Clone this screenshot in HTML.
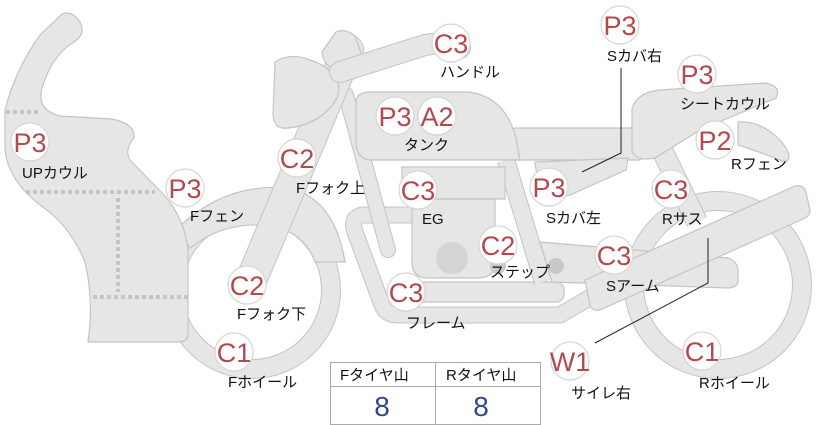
<!DOCTYPE html>
<html><head><meta charset="utf-8"><style>
body{margin:0;background:#fff;}
svg{display:block;}
.s{fill:#e6e6e4;stroke:#c4c4c4;stroke-width:1.2;}
.l{font-family:"Liberation Sans","Noto Sans CJK JP",sans-serif;font-size:15px;fill:#111;}
.b{font-family:"Liberation Sans","Noto Sans CJK JP",sans-serif;font-size:27px;fill:#b5484d;text-anchor:middle;}
</style></head><body>
<svg width="822" height="425" viewBox="0 0 822 425" xmlns="http://www.w3.org/2000/svg">
<!-- rear wheel -->
<circle cx="718" cy="285" r="84" fill="none" stroke="#c4c4c4" stroke-width="20"/>
<circle cx="718" cy="285" r="84" fill="none" stroke="#e6e6e4" stroke-width="18"/>
<!-- front wheel -->
<circle cx="252" cy="290" r="79" fill="none" stroke="#c4c4c4" stroke-width="20"/>
<circle cx="252" cy="290" r="79" fill="none" stroke="#e6e6e4" stroke-width="18"/>
<!-- front fender -->
<path class="s" d="M178,228 Q225,182 290,188 Q335,200 345,262 L315,262 Q305,233 272,226 Q225,220 190,248 Z"/>
<!-- UP cowl -->
<path class="s" d="M62,14 Q72,10 80,22 Q86,34 74,42 Q52,55 42,88 Q36,110 60,116 L112,119 Q136,124 134,138 Q124,150 130,160 L165,196 Q185,220 188,250 L188,336 Q186,342 178,342 L88,342 Q94,300 85,262 Q70,225 40,205 Q8,180 5,150 L5,110 Q15,70 40,35 Z"/>
<g stroke="#c4c4c4" stroke-width="4" stroke-dasharray="4,3" fill="none">
<path d="M6,112 H40"/><path d="M26,192 H155"/><path d="M118,198 V292"/><path d="M93,297 H189"/>
</g>
<!-- frame loop -->
<path d="M414,215 H362 Q350,218 355,232 L382,305 Q386,315 398,315 H560 L620,280" fill="none" stroke="#c4c4c4" stroke-width="17" stroke-linejoin="round"/>
<path d="M414,215 H362 Q350,218 355,232 L382,305 Q386,315 398,315 H560 L620,280" fill="none" stroke="#e6e6e4" stroke-width="15" stroke-linejoin="round"/>
<rect class="s" x="392" y="282" width="172" height="20" rx="8"/>
<!-- down tubes -->
<path d="M346,95 L388,250" stroke="#c4c4c4" stroke-width="16" stroke-linecap="round"/>
<path d="M346,95 L388,250" stroke="#e6e6e4" stroke-width="14" stroke-linecap="round"/>
<path d="M506,160 L543,282" stroke="#c4c4c4" stroke-width="18"/>
<path d="M506,160 L543,282" stroke="#e6e6e4" stroke-width="16"/>
<!-- engine -->
<rect class="s" x="402" y="167" width="103" height="32"/>
<path class="s" d="M412,199 H495 V262 Q495,278 478,278 H428 Q412,278 412,262 Z"/>
<circle cx="452" cy="258" r="16" fill="#d4d4d2"/>
<!-- swingarm -->
<path class="s" d="M540,242 L728,258 Q738,262 738,270 L738,282 Q736,288 728,288 L552,282 Z"/>
<circle cx="498" cy="266" r="8" fill="#c9c9c7"/><circle cx="556" cy="266" r="8" fill="#c9c9c7"/>
<!-- rear shock -->
<path d="M662,150 L697,222" stroke="#c4c4c4" stroke-width="22"/>
<path d="M662,150 L697,222" stroke="#e6e6e4" stroke-width="20"/>
<!-- exhaust -->
<path class="s" d="M585,280 L795,186 Q803,184 806,192 L810,210 Q810,216 803,219 L600,310 Q592,312 590,305 Z"/>
<!-- fork -->
<path d="M250,283 L348,50" stroke="#c4c4c4" stroke-width="32" stroke-linecap="round"/>
<path d="M250,283 L348,50" stroke="#e6e6e4" stroke-width="30" stroke-linecap="round"/>
<!-- headlight -->
<path class="s" d="M275,62 Q290,52 310,60 Q330,66 338,82 Q342,98 326,112 Q310,126 288,128 Q274,130 273,115 Z"/>
<path class="s" d="M322,52 L336,32 Q345,28 355,36 L362,56 Q352,72 340,72 Q324,68 322,52 Z"/>
<!-- handle -->
<path d="M340,72 L425,45 Q455,40 460,48" fill="none" stroke="#c4c4c4" stroke-width="22" stroke-linecap="round"/>
<path d="M340,72 L425,45 Q455,40 460,48" fill="none" stroke="#e6e6e4" stroke-width="20" stroke-linecap="round"/>
<!-- seat bar -->
<rect class="s" x="512" y="128" width="130" height="32" rx="3"/>
<!-- S cover left -->
<path class="s" d="M535,162 L628,158 L626,170 L570,195 L540,200 Z"/>
<!-- tank -->
<path class="s" d="M356,100 Q358,92 370,92 H468 Q505,96 516,138 L520,160 H372 Q358,160 356,145 Z"/>
<!-- seat cowl -->
<path class="s" d="M632,108 Q638,92 660,90 L765,83 Q782,86 776,98 L700,130 L655,158 Q635,162 632,150 Z"/>
<!-- R fender -->
<path class="s" d="M738,122 Q760,120 780,140 Q795,158 785,162 Q760,152 738,145 Z"/>
<!-- connector lines -->
<path d="M621,68 V153 L582,172" fill="none" stroke="#222" stroke-width="1"/>
<path d="M708,238 V283 L595,343" fill="none" stroke="#222" stroke-width="1"/>
<!-- badges -->
<g fill="#fff" stroke="#d6d6d6" stroke-width="1.2">
<circle cx="30" cy="142" r="19"/><circle cx="185" cy="188" r="19"/><circle cx="297" cy="158" r="19"/>
<circle cx="247" cy="285" r="19"/><circle cx="234" cy="352" r="19"/><circle cx="451" cy="43" r="19"/>
<circle cx="395" cy="116" r="19"/><circle cx="437" cy="116" r="19"/><circle cx="418" cy="190" r="19"/>
<circle cx="498" cy="245" r="19"/><circle cx="406" cy="292" r="19"/><circle cx="620" cy="25" r="19"/>
<circle cx="697" cy="74" r="19"/><circle cx="715" cy="140" r="19"/><circle cx="549" cy="187" r="19"/>
<circle cx="671" cy="189" r="19"/><circle cx="614" cy="255" r="19"/><circle cx="570" cy="361" r="19"/>
<circle cx="702" cy="351" r="19"/>
</g>
<g class="b">
<text x="30" y="152" class="b">P3</text><text x="185" y="198" class="b">P3</text><text x="297" y="168" class="b">C2</text>
<text x="247" y="295" class="b">C2</text><text x="234" y="362" class="b">C1</text><text x="451" y="53" class="b">C3</text>
<text x="395" y="126" class="b">P3</text><text x="437" y="126" class="b">A2</text><text x="418" y="200" class="b">C3</text>
<text x="498" y="255" class="b">C2</text><text x="406" y="302" class="b">C3</text><text x="620" y="35" class="b">P3</text>
<text x="697" y="84" class="b">P3</text><text x="715" y="150" class="b">P2</text><text x="549" y="197" class="b">P3</text>
<text x="671" y="199" class="b">C3</text><text x="614" y="265" class="b">C3</text><text x="570" y="371" class="b">W1</text>
<text x="702" y="361" class="b">C1</text>
</g>
<g class="l">
<text x="22" y="178">UPカウル</text><text x="190" y="221">Fフェン</text><text x="296" y="193">Fフォク上</text>
<text x="237" y="319">Fフォク下</text><text x="228" y="387">Fホイール</text><text x="440" y="77">ハンドル</text>
<text x="404" y="150">タンク</text><text x="422" y="224">EG</text><text x="490" y="277">ステップ</text>
<text x="406" y="328">フレーム</text><text x="607" y="61">Sカバ右</text><text x="680" y="109">シートカウル</text>
<text x="731" y="169">Rフェン</text><text x="546" y="223">Sカバ左</text><text x="662" y="224">Rサス</text>
<text x="606" y="291">Sアーム</text><text x="571" y="398">サイレ右</text><text x="699" y="388">Rホイール</text>
</g>
<!-- table -->
<rect x="330.5" y="362.5" width="210" height="62" fill="#fff" stroke="#aaa"/>
<path d="M330,386.5 H541 M435.5,362 V425" stroke="#aaa"/>
<text class="l" x="340" y="380">Fタイヤ山</text><text class="l" x="446" y="380">Rタイヤ山</text>
<text x="382" y="416" font-family="Liberation Sans,sans-serif" font-size="28" fill="#2f4a8c" text-anchor="middle">8</text>
<text x="481" y="416" font-family="Liberation Sans,sans-serif" font-size="28" fill="#2f4a8c" text-anchor="middle">8</text>
</svg>
</body></html>
